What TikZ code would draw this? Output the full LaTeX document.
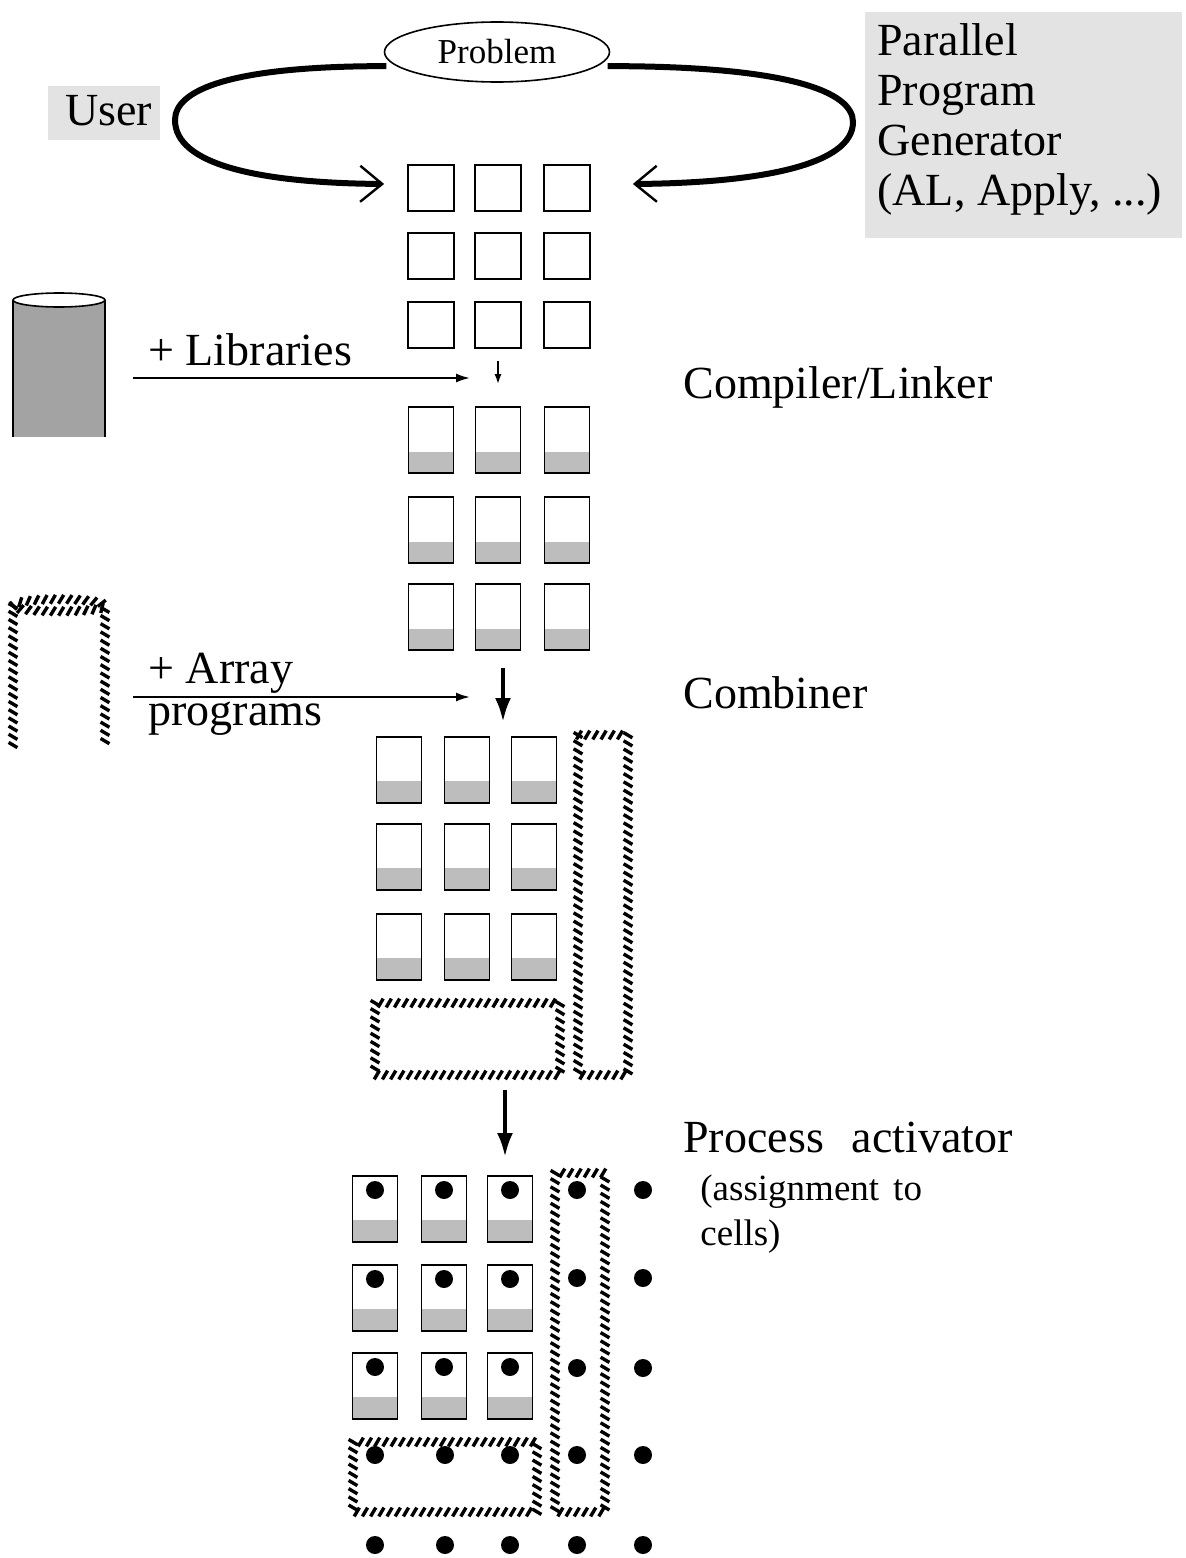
\documentclass[tikz,border=0pt]{standalone}
\usepackage{fontspec}
\setmainfont{Liberation Serif}
\usetikzlibrary{arrows.meta,decorations.markings,shapes.geometric}

\definecolor{cellgray}{gray}{0.74}
\definecolor{cylgray}{gray}{0.64}
\definecolor{labelgray}{gray}{0.89}

\begin{document}
\begin{tikzpicture}[x=0.5pt,y=-0.5pt,
  biglabel/.style={anchor=base west, inner sep=0pt, font=\fontsize{23}{25}\selectfont},
  smalllabel/.style={anchor=base west, inner sep=0pt, font=\fontsize{18.5}{22}\selectfont},
  cell/.style={draw, line width=0.9pt, inner sep=0pt, minimum width=23pt},
  sqcell/.style={cell, minimum height=23pt},
  fillcell/.style={cell, minimum width=22.5pt, minimum height=33pt,
    path picture={\fill[cellgray] (path picture bounding box.south west)
      rectangle ([yshift=#1]path picture bounding box.south east);}},
  hatched/.style={decorate, decoration={markings,
    mark=between positions 0 and 1 step 4.1pt with
      {\draw[line width=1.7pt] (-1.3pt,-2.2pt) -- (1.3pt,2.2pt);}}},
  looparrow/.style={line width=3pt, -{Straight Barb[length=11pt,width=18pt,line width=1.2pt]}},
  feedarrow/.style={line width=1pt, -{Latex[length=7pt,width=4.5pt]}},
  stepdown/.style={line width=0.8pt, -{Latex[length=5pt,width=3.5pt]}},
  bigdown/.style={line width=2pt, -{Latex[length=12pt,width=8pt]}},
  dot/.style={radius=4.5pt}
]
\useasboundingbox (0,0) rectangle (1185,1558);

% label backgrounds
\fill[labelgray] (48,86) rectangle (160,140);
\fill[labelgray] (865,12) rectangle (1182,238);

% problem and labels at the top
\node[ellipse, draw, line width=0.8pt, minimum width=112.5pt, minimum height=30pt,
  inner sep=0pt, font=\fontsize{17.5}{20}\selectfont] (problem) at (497,52) {Problem};
\node[biglabel] (user) at (65,125) {User};
\node[biglabel] (ppg1) at (877,55) {Parallel};
\node[biglabel] (ppg2) at (877,105) {Program};
\node[biglabel] (ppg3) at (877,155) {Generator};
\node[biglabel] (ppg4) at (877,205) {(AL, Apply, ...)};

% source program: 3x3 empty cells
\foreach \c/\x in {1/431,2/498,3/567}
  \foreach \r/\y in {1/188,2/256,3/325}
    \node[sqcell] (a\r\c) at (\x,\y) {};

% the two loops feeding the cells
\draw[looparrow, shorten <=5pt] (problem.188) .. controls (230,66) and (175,90) .. (175,120)
  .. controls (175,165) and (260,183) .. ([xshift=-11.5pt,yshift=2pt]a11.west);
\draw[looparrow, shorten <=5pt] (problem.352) .. controls (790,66) and (853,92) .. (853,122)
  .. controls (853,165) and (760,183) .. ([xshift=21pt,yshift=2pt]a13.east);

% libraries cylinder
\fill[cylgray] (13,300) rectangle (105,437);
\draw[line width=0.9pt] (13,300) -- (13,437) (105,300) -- (105,437);
\draw[line width=0.8pt, fill=white] (59,300) ellipse [x radius=23pt, y radius=3.5pt];
\node[biglabel] (libs) at (148,365) {+ Libraries};
\coordinate (libtail) at (133,378);
\coordinate (libhead) at (470,378);
\draw[feedarrow] (libtail) -- (libhead);
\node[biglabel] (compiler) at (683,398) {Compiler/Linker};

% compiled cells
\foreach \c/\x in {1/431,2/498,3/567}
  \foreach \r/\y in {1/440,2/530,3/617}
    \node[fillcell=10.5pt] (b\r\c) at (\x,\y) {};
\draw[stepdown] ([yshift=-6pt]a32.south) -- ([yshift=11pt]b12.north);

% array programs (hatched open cylinder)
\path[hatched] (13,745) -- (13,606) .. controls (13,597) and (105,597) .. (105,606) -- (105,745);
\path[hatched] (13,606) .. controls (13,613) and (105,613) .. (105,606);
\node[biglabel] (array) at (148,683) {+ Array};
\node[biglabel] (programs) at (148,725) {programs};
\coordinate (arrtail) at (133,697);
\coordinate (arrhead) at (470,697);
\draw[feedarrow] (arrtail) -- (arrhead);
\coordinate (combtop) at (503,668);
\coordinate (combbot) at (503,722);
\draw[bigdown] (combtop) -- (combbot);
\node[biglabel] (combiner) at (683,708) {Combiner};

% combined cells with array programs
\foreach \c/\x in {1/399,2/467,3/534}
  \foreach \r/\y in {1/770,2/857,3/947}
    \node[fillcell=11pt] (c\r\c) at (\x,\y) {};
\path[hatched] (578,735) rectangle (628,1075);
\path[hatched] (375,1003) rectangle (560,1075);

\coordinate (acttop) at (505,1090);
\coordinate (actbot) at (505,1157);
\draw[bigdown] (acttop) -- (actbot);
\node[biglabel] (activator) at (683,1152) {Process\hspace{14pt}activator};
\node[smalllabel] (assign1) at (700,1200) {(assignment\hspace{7pt}to};
\node[smalllabel] (assign2) at (700,1245) {cells)};

% processes assigned to cells
\foreach \c/\x in {1/375,2/444,3/510}
  \foreach \r/\y in {1/1209,2/1298,3/1386}
  {
    \node[fillcell=11pt] (d\r\c) at (\x,\y) {};
    \fill (\x,\y-19) circle[dot];
  }
\path[hatched] (555,1173) rectangle (605,1512);
\path[hatched] (353,1442) rectangle (537,1512);
\foreach \x in {375,445,510}
  \fill (\x,1455) circle[dot];
\foreach \y in {1190,1278,1368,1455}
{
  \fill (577,\y) circle[dot];
  \fill (643,\y) circle[dot];
}
\foreach \x in {375,445,510,577,643}
  \fill (\x,1545) circle[dot];
\end{tikzpicture}
\end{document}
